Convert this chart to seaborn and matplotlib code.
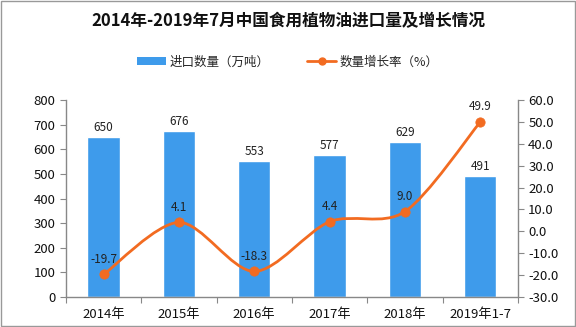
import numpy as np
import pandas as pd
import matplotlib
matplotlib.use("Agg")
import matplotlib.pyplot as plt
from matplotlib.path import Path
from matplotlib.patches import PathPatch
from matplotlib.lines import Line2D
from matplotlib.patches import Patch
import seaborn as sns

categories = ["2014年", "2015年", "2016年", "2017年", "2018年", "2019年1-7"]
volume = [650, 676, 553, 577, 629, 491]
growth = [-19.7, 4.1, -18.3, 4.4, 9.0, 49.9]

sns.set_style("white")
plt.rcParams['font.family'] = ['Noto Sans CJK SC', 'DejaVu Sans']

BAR = "#3E9BEB"
LINE = "#F26B21"
AX = "#888888"

fig = plt.figure(figsize=(5.76, 3.27), dpi=100)
ax = fig.add_axes([0.1146, 0.0917, 0.7844, 0.6025])
df = pd.DataFrame({"cat": categories, "vol": volume, "g": growth})
sns.barplot(data=df, x="cat", y="vol", color=BAR, width=0.43, saturation=1, ax=ax)
ax.set_ylim(0, 800)
ax.set_xlim(-0.5, len(categories) - 0.5)
ax.set_yticks(range(0, 801, 100))
ax.set_xlabel("")
ax.set_ylabel("")
for i, v in enumerate(volume):
    ax.text(i, v + 12, f"{v}", ha="center", va="bottom", fontsize=8.5, color="#222222")

ax2 = ax.twinx()
ax2.set_ylim(-30, 60)
ax2.set_yticks(np.arange(-30, 61, 10))
ax2.set_yticklabels([f"{t:.1f}" for t in np.arange(-30, 61, 10)])

# smooth curve via cubic Bezier (Catmull-Rom style control points)
xs = np.arange(len(growth), dtype=float)
ys = np.array(growth, dtype=float)
verts = [(xs[0], ys[0])]
codes = [Path.MOVETO]
t = 0.15
for i in range(len(xs) - 1):
    p0 = (xs[i - 1], ys[i - 1]) if i > 0 else (xs[i], ys[i])
    p1 = (xs[i], ys[i])
    p2 = (xs[i + 1], ys[i + 1])
    p3 = (xs[i + 2], ys[i + 2]) if i + 2 < len(xs) else p2
    c1 = (p1[0] + (p2[0] - p0[0]) * t, p1[1] + (p2[1] - p0[1]) * t)
    c2 = (p2[0] - (p3[0] - p1[0]) * t, p2[1] - (p3[1] - p1[1]) * t)
    verts += [c1, c2, p2]
    codes += [Path.CURVE4] * 3
ax2.add_patch(PathPatch(Path(verts, codes), facecolor="none", edgecolor=LINE, lw=2, zorder=3))
sns.scatterplot(x=xs, y=ys, color=LINE, s=45, edgecolor=LINE, ax=ax2, zorder=4)
for i, g in enumerate(growth):
    ax2.text(i, g + 4, f"{g:.1f}", ha="center", va="bottom", fontsize=8.5, color="#222222")

# axes styling
for a in (ax, ax2):
    a.spines["top"].set_visible(False)
    for s in ("left", "right", "bottom"):
        a.spines[s].set_color(AX)
        a.spines[s].set_linewidth(1)
ax.spines["right"].set_visible(False)
ax2.spines["left"].set_visible(False)
ax2.spines["bottom"].set_visible(False)

ax.tick_params(axis="y", direction="out", length=4, color=AX, labelsize=9.5, labelcolor="#111111", left=True)
ax2.tick_params(axis="y", direction="out", length=4, color=AX, labelsize=9.5, labelcolor="#111111", right=True)
ax.set_xticks(np.arange(-0.5, len(categories), 1.0))
ax.set_xticklabels([])
ax.set_xticks(np.arange(len(categories)), minor=True)
ax.set_xticklabels(categories, minor=True)
ax.tick_params(axis="x", which="major", direction="out", length=4, color=AX, bottom=True)
ax.tick_params(axis="x", which="minor", length=0, labelsize=9.5, labelcolor="#111111", pad=8)

fig.text(0.5, 0.935, "2014年-2019年7月中国食用植物油进口量及增长情况", ha="center", va="center",
         fontsize=12, fontweight="bold", color="#111111")

handles = [Patch(facecolor=BAR, edgecolor="none"),
           Line2D([0], [0], color=LINE, lw=2, marker="o", markersize=5)]
fig.legend(handles, ["进口数量（万吨）", "数量增长率（%）"], loc="center", bbox_to_anchor=(0.5, 0.81),
           ncol=2, frameon=False, fontsize=9, handlelength=2.3, handleheight=0.6, columnspacing=3,
           handletextpad=0.3)

fig.patches.append(plt.Rectangle((0.001, 0.002), 0.997, 0.995, transform=fig.transFigure,
                                 fill=False, edgecolor="#999999", lw=1))
fig.savefig("out.png", dpi=100)
